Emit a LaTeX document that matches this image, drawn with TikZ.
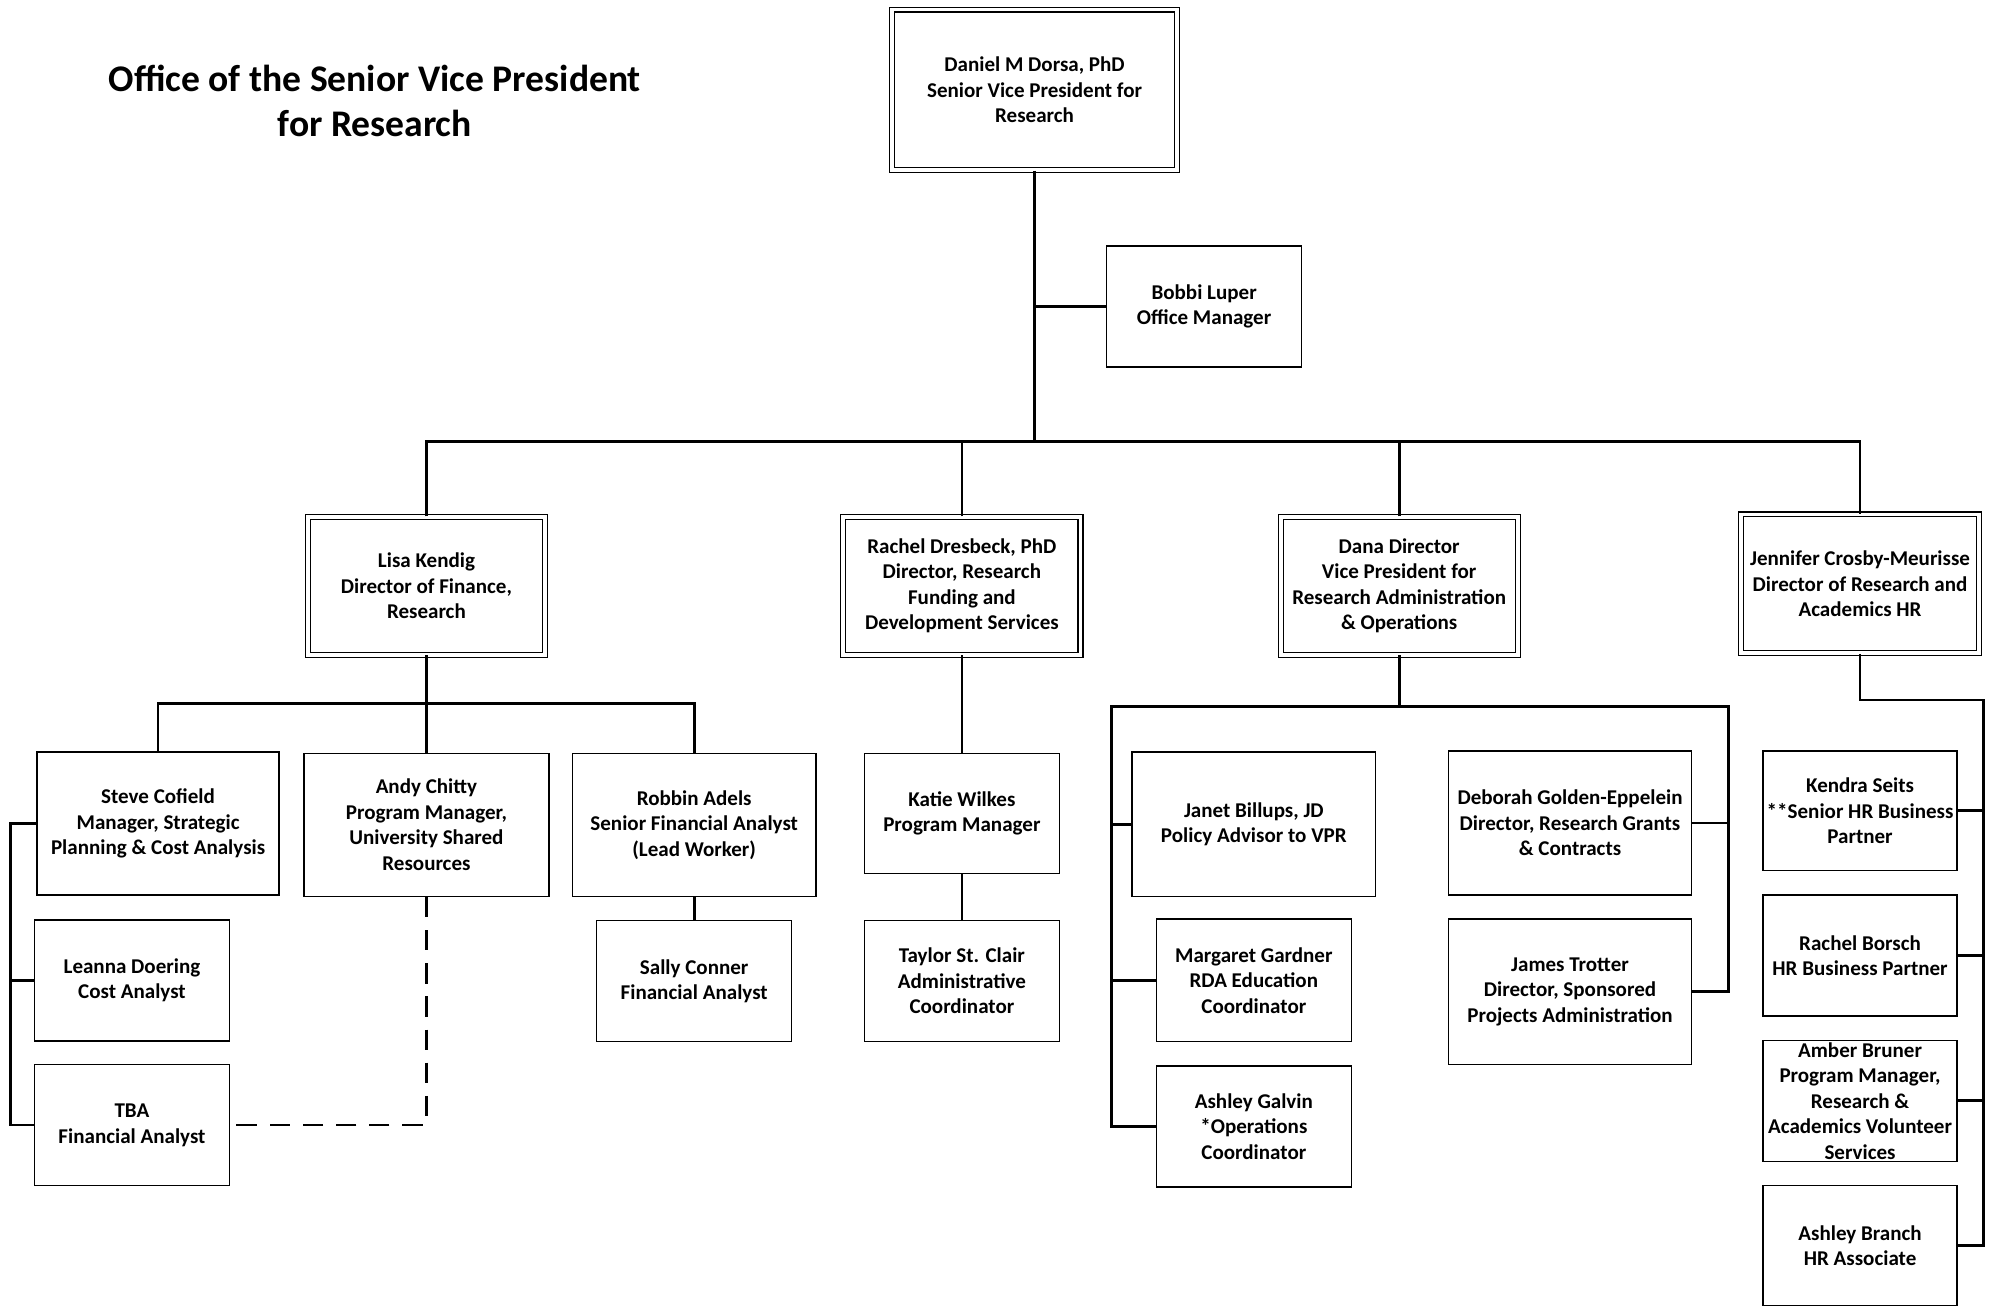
\documentclass[tikz,border=0pt]{standalone}
\usepackage{fontspec}
\setmainfont{Carlito}
\usepackage{tikz}

\begin{document}
\begin{tikzpicture}[x=1pt,y=-1pt]
        \tikzstyle{box}=[draw,line width=1.1pt,align=center,inner sep=0pt,font=\bfseries\fontsize{16.5}{20}\selectfont]
        \tikzstyle{head box}=[box,double,double distance=3pt,line width=0.9pt,minimum width=186pt,minimum height=108pt]
        \tikzstyle{big box}=[box,minimum width=191pt,minimum height=113pt]
        \tikzstyle{small box}=[box,minimum width=153pt,minimum height=95pt]
        \tikzstyle{conn}=[line width=2.2pt]
        \useasboundingbox (0,0) rectangle (1568,1025);

        \node[font=\bfseries\fontsize{29.5}{35}\selectfont,align=center] (title) at (294,79) {Office of the Senior Vice President\\for Research};

        % top
        \node[head box,minimum width=224pt,minimum height=126pt] (dorsa) at (811.5,70.5) {Daniel M Dorsa, PhD\\Senior Vice President for\\Research};
        \node[small box] (luper) at (944.5,240.5) {Bobbi Luper\\Office Manager};

        % directors
        \node[head box] (kendig) at (334.5,459.5) {Lisa Kendig\\Director of Finance,\\Research};
        \node[head box] (dresbeck) at (754.5,459.5) {Rachel Dresbeck, PhD\\Director, Research\\Funding and\\Development Services};
        \node[head box] (dana) at (1097.5,459.5) {Dana Director\\Vice President for\\Research Administration\\\& Operations};
        \node[head box,minimum width=187pt,minimum height=109pt] (crosby) at (1459,458) {Jennifer Crosby-Meurisse\\Director of Research and\\Academics HR};

        % finance
        \node[big box,minimum width=190pt,minimum height=112pt] (cofield) at (124,646) {Steve Cofield\\Manager, Strategic\\Planning \& Cost Analysis};
        \node[big box,minimum width=192pt,minimum height=112pt] (chitty) at (334.5,647) {Andy Chitty\\Program Manager,\\University Shared\\Resources};
        \node[big box,minimum height=112pt] (adels) at (544.5,647) {Robbin Adels\\Senior Financial Analyst\\(Lead Worker)};
        \node[small box] (doering) at (103.5,769) {Leanna Doering\\Cost Analyst};
        \node[small box] (tba) [below of=doering,node distance=113.5pt] {TBA\\Financial Analyst};
        \node[small box] (conner) [below of=adels,node distance=122.5pt] {Sally Conner\\Financial Analyst};

        % funding
        \node[small box,minimum height=94pt] (wilkes) at (754.5,638) {Katie Wilkes\\Program Manager};
        \node[small box] (stclair) [below of=wilkes,node distance=131.5pt] {Taylor St. Clair\\Administrative\\Coordinator};

        % administration
        \node[big box] (billups) at (983.5,646.5) {Janet Billups, JD\\Policy Advisor to VPR};
        \node[small box,minimum height=96pt] (gardner) at (983.5,769) {Margaret Gardner\\RDA Education\\Coordinator};
        \node[small box] (galvin) [below of=gardner,node distance=114.5pt] {Ashley Galvin\\*Operations\\Coordinator};
        \node[big box] (golden) at (1231.5,645.5) {Deborah Golden-Eppelein\\Director, Research Grants\\\& Contracts};
        \node[big box,minimum height=114pt] (trotter) [below of=golden,node distance=132.5pt] {James Trotter\\Director, Sponsored\\Projects Administration};

        % hr
        \node[small box,minimum width=152pt,minimum height=94pt] (seits) at (1459,636) {Kendra Seits\\**Senior HR Business\\Partner};
        \node[small box,minimum width=152pt] (borsch) [below of=seits,node distance=113.5pt] {Rachel Borsch\\HR Business Partner};
        \node[small box,minimum width=152pt] (bruner) [below of=borsch,node distance=114pt] {Amber Bruner\\Program Manager,\\Research \&\\Academics Volunteer\\Services};
        \node[small box,minimum width=152pt,minimum height=94pt] (branch) [below of=bruner,node distance=113.5pt] {Ashley Branch\\HR Associate};

        \coordinate (bus) at (811.5,346);
        \coordinate (kbus) at (334.5,552);
        \coordinate (krail) at (8,882.5);
        \coordinate (dbus) at (1097.5,554);
        \coordinate (dleft) at (872,554);
        \coordinate (dright) at (1356,554);
        \coordinate (cbend) at (1459,549);
        \coordinate (crail) at (1556,549);

        \draw[conn] (dorsa) -- (bus);
        \draw[conn] (luper.west) -- (luper.west -| bus);
        \draw[conn] (kendig) |- (bus) -| (crosby);
        \draw[conn] (dresbeck) -- (dresbeck |- bus);
        \draw[conn] (dana) -- (dana |- bus);

        \draw[conn] (kendig) -- (kbus);
        \draw[conn] (cofield) |- (kbus) -| (adels);
        \draw[conn] (chitty) -- (kbus);
        \draw[conn] (cofield.west) -| (krail) -- (tba.west);
        \draw[conn] (doering.west) -- (doering.west -| krail);
        \draw[conn,dash pattern=on 16pt off 10pt] (chitty.south) |- (tba.east);
        \draw[conn] (adels) -- (conner);

        \draw[conn] (dresbeck) -- (wilkes);
        \draw[conn] (wilkes) -- (stclair);

        \draw[conn] (dana) -- (dbus);
        \draw[conn] (galvin.west) -| (dleft) -- (dright) |- (trotter.east);
        \draw[conn] (billups.west) -- (billups.west -| dleft);
        \draw[conn] (gardner.west) -- (gardner.west -| dleft);
        \draw[conn] (golden.east) -- (golden.east -| dright);

        \draw[conn] (crosby) -- (cbend) -- (crail) |- (branch.east);
        \draw[conn] (seits.east) -- (seits.east -| crail);
        \draw[conn] (borsch.east) -- (borsch.east -| crail);
        \draw[conn] (bruner.east) -- (bruner.east -| crail);
    \end{tikzpicture}
\end{document}
